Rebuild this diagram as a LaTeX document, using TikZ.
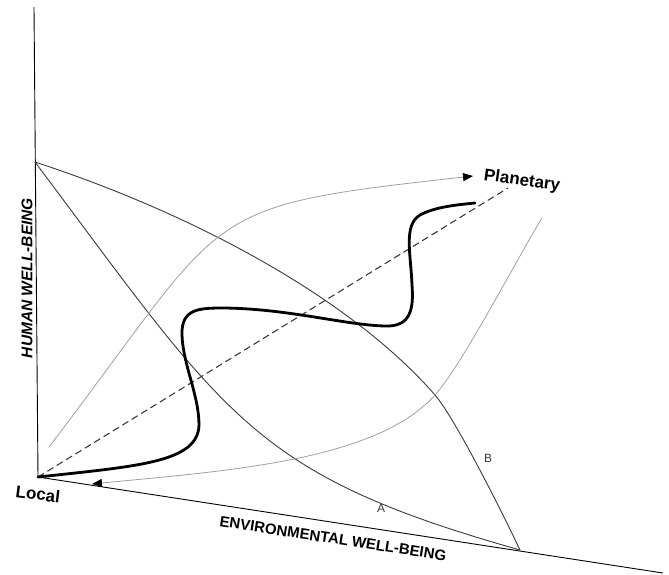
\documentclass[tikz,border=0pt]{standalone}
\usepackage{fontspec}
\setmainfont{Liberation Sans}
\usetikzlibrary{arrows.meta}
\definecolor{curvegray}{HTML}{A0A0A0}
\definecolor{darkline}{HTML}{3A3A3A}
\tikzset{
  axisline/.style={draw=black, line width=0.9pt},
  bound/.style={draw=darkline, line width=0.9pt},
  thin gray/.style={draw=curvegray, line width=0.8pt},
  path line/.style={draw=black, line width=2.8pt, line cap=round},
  diag/.style={draw=darkline, line width=1.1pt, dash pattern=on 7pt off 4pt},
  tip/.style={-{Triangle[length=10pt,width=8pt,color=black]}},
  axislabel/.style={font=\bfseries\fontsize{15}{15}\selectfont, inner sep=0pt},
  endlabel/.style={font=\bfseries\fontsize{17}{17}\selectfont, inner sep=0pt},
  curvelabel/.style={font=\fontsize{12}{12}\selectfont, text=darkline, inner sep=0pt}
}
\begin{document}
\begin{tikzpicture}[x=1pt,y=-1pt]
\useasboundingbox (0,0) rectangle (669,574);
\coordinate (origin) at (38,477);
\coordinate (ytop) at (34,7);
\coordinate (xend) at (663,573);
\coordinate (hmax) at (35,162);
\coordinate (emax) at (520,550);
\coordinate (planet) at (508,188);
\coordinate (bmid) at (435,395);
% axes
\draw[axisline] (ytop) -- (origin) -- (xend);
% boundary curves
\draw[bound] (hmax) .. controls (227,418) and (251,474) .. (emax);
\draw[bound] (hmax) .. controls (206,218) and (356,304) .. (bmid)
  .. controls (455,418) and (503,514) .. (emax);
% gray trajectories
\draw[thin gray, tip] (49,447) .. controls (232,207) and (193,207) .. (473,176);
\draw[thin gray, tip] (542,218) .. controls (516,260.5) and (462,365) .. (435,395)
  .. controls (375,462) and (222,471) .. (92,484);
% diagonal
\draw[diag] (origin) -- (planet);
% thick path
\draw[path line] (origin) .. controls (140,466) and (198,462) .. (199,425)
  .. controls (199,395) and (183,365) .. (182,335)
  .. controls (181,308) and (200,308) .. (225,308)
  .. controls (290,309) and (345,325) .. (385,326)
  .. controls (410,327) and (414,310) .. (412,285)
  .. controls (411,255) and (403,225) .. (420,215)
  .. controls (435,207) and (455,205) .. (475,203);
% labels
\node[axislabel, rotate=90, font=\bfseries\itshape\fontsize{15.5}{15.5}\selectfont] (hwb) at (27,278) {HUMAN WELL-BEING};
\node[axislabel, rotate=-8.7] (ewb) at (333,538.5) {ENVIRONMENTAL WELL-BEING};
\node[endlabel, rotate=-8] (planetary) at (522,181) {Planetary};
\node[endlabel, rotate=-7] (local) at (38,494) {Local};
\node[curvelabel] (la) at (381,508) {A};
\node[curvelabel] (lb) at (488,458) {B};
\end{tikzpicture}
\end{document}
